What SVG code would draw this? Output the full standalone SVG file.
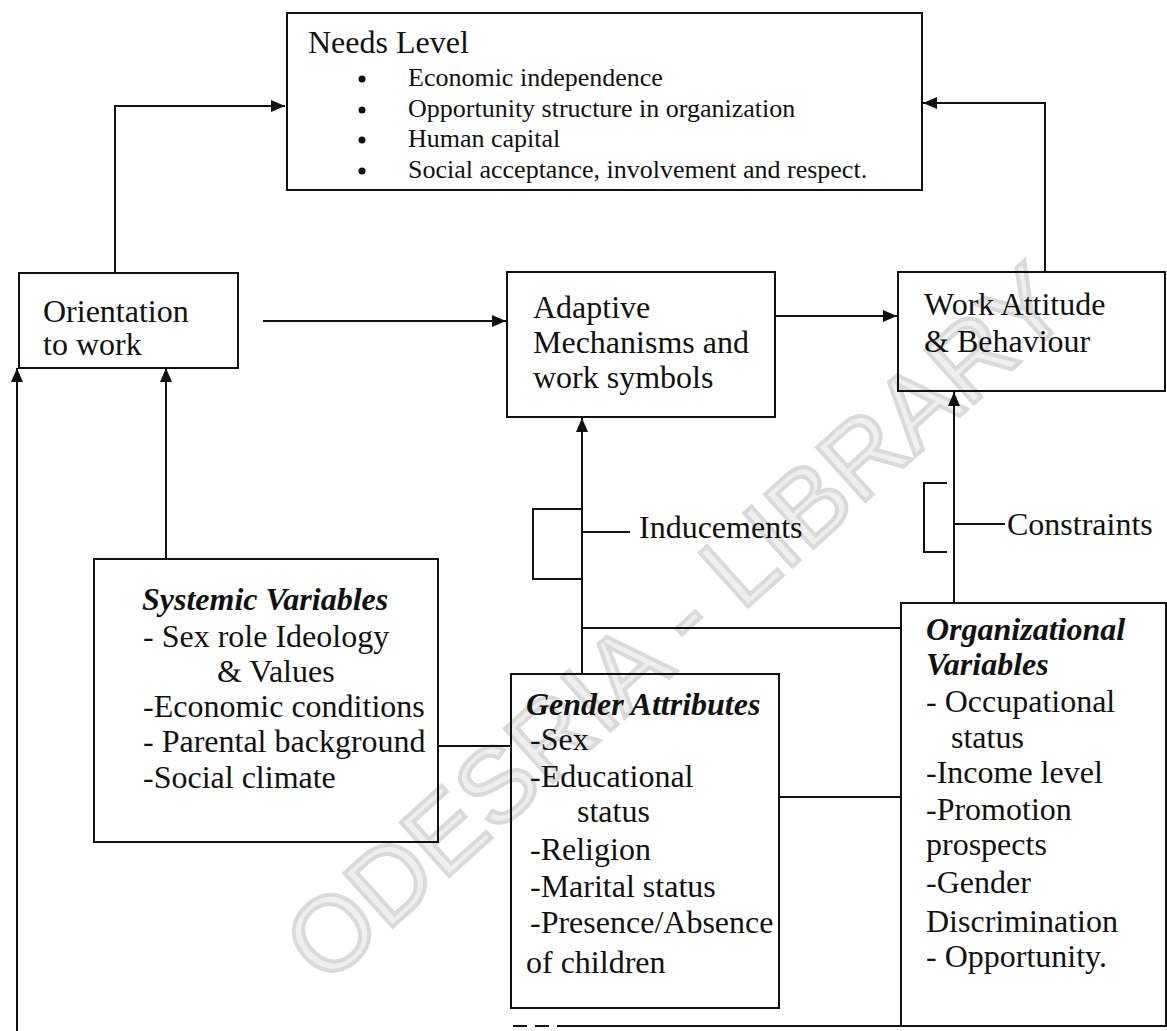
<svg xmlns="http://www.w3.org/2000/svg" width="1167" height="1031" viewBox="0 0 1167 1031">
<style>
.box{fill:none;stroke:#111;stroke-width:2}
.ln{fill:none;stroke:#111;stroke-width:2}
.t{font-family:"Liberation Serif","Times New Roman",serif;font-size:32px;fill:#111}
.b{font-family:"Liberation Serif","Times New Roman",serif;font-size:26px;fill:#111}
.h{font-weight:bold;font-style:italic}
.wm{font-family:"Liberation Sans",Arial,sans-serif;font-size:105px;fill:#efefef;stroke:#dadada;stroke-width:4}
</style>
<defs>
<marker id="ah" markerWidth="14" markerHeight="12" refX="14" refY="6" orient="auto" markerUnits="userSpaceOnUse">
<path d="M0,0 L14,6 L0,12 z" fill="#111"/>
</marker>
</defs>
<rect width="1167" height="1031" fill="#fff"/>
<text class="wm" text-anchor="middle" transform="translate(700,650) rotate(-42)">ODESRIA - LIBRARY</text>

<g id="connectors">
<path class="ln" d="M115,272 V106 H285" marker-end="url(#ah)"/>
<path class="ln" d="M1045,272 V103 H923" marker-end="url(#ah)"/>
<path class="ln" d="M263,321 H506" marker-end="url(#ah)"/>
<path class="ln" d="M775,316 H897" marker-end="url(#ah)"/>
<path class="ln" d="M166,559 V368" marker-end="url(#ah)"/>
<path class="ln" d="M17,1031 V368" marker-end="url(#ah)"/>
<path class="ln" d="M582,674 V418" marker-end="url(#ah)"/>
<path class="ln" d="M954,603 V392" marker-end="url(#ah)"/>
<path class="ln" d="M582,509 H533 V579 H582"/>
<path class="ln" d="M582,532 H630"/>
<path class="ln" d="M947,483 H924 V552 H947"/>
<path class="ln" d="M954,524 H1005"/>
<path class="ln" d="M582,628 H901"/>
<path class="ln" d="M438,746 H511"/>
<path class="ln" d="M779,797 H901"/>
<path class="ln" d="M513,1026 H560" stroke="#bbb" stroke-dasharray="14,8"/>
<path class="ln" d="M560,1026 H1167"/>
</g>

<g id="needs">
<rect class="box" x="287" y="13" width="635" height="177"/>
<text class="t" x="308" y="53">Needs Level</text>
<circle cx="362" cy="79" r="3.5" fill="#111"/>
<circle cx="362" cy="110" r="3.5" fill="#111"/>
<circle cx="362" cy="140" r="3.5" fill="#111"/>
<circle cx="362" cy="171" r="3.5" fill="#111"/>
<text class="b"><tspan x="408" y="86">Economic independence</tspan><tspan x="408" y="117">Opportunity structure in organization</tspan><tspan x="408" y="147">Human capital</tspan><tspan x="408" y="178">Social acceptance, involvement and respect.</tspan></text>
</g>

<g id="orientation">
<rect class="box" x="19" y="273" width="219" height="95"/>
<text class="t"><tspan x="43" y="322">Orientation</tspan><tspan x="43" y="355">to work</tspan></text>
</g>

<g id="adaptive">
<rect class="box" x="507" y="272" width="268" height="145"/>
<text class="t"><tspan x="533" y="318">Adaptive</tspan><tspan x="533" y="353">Mechanisms and</tspan><tspan x="533" y="388">work symbols</tspan></text>
</g>

<g id="work">
<rect class="box" x="898" y="272" width="267" height="119"/>
<text class="t"><tspan x="924" y="315">Work Attitude</tspan><tspan x="924" y="352">&amp; Behaviour</tspan></text>
</g>

<g id="inducements">
<text class="t" x="639" y="538">Inducements</text>
</g>

<g id="constraints">
<text class="t" x="1007" y="535">Constraints</text>
</g>

<g id="systemic">
<rect class="box" x="94" y="559" width="344" height="283"/>
<text class="t"><tspan class="h" x="142" y="610">Systemic Variables</tspan><tspan x="143" y="647">- Sex role Ideology</tspan><tspan x="217" y="682">&amp; Values</tspan><tspan x="143" y="717">-Economic conditions</tspan><tspan x="143" y="752">- Parental background</tspan><tspan x="143" y="788">-Social climate</tspan></text>
</g>

<g id="gender">
<rect class="box" x="511" y="674" width="268" height="334"/>
<text class="t"><tspan class="h" x="526" y="715">Gender Attributes</tspan><tspan x="530" y="750">-Sex</tspan><tspan x="530" y="787">-Educational</tspan><tspan x="577" y="822">status</tspan><tspan x="530" y="860">-Religion</tspan><tspan x="530" y="897">-Marital status</tspan><tspan x="530" y="933">-Presence/Absence</tspan><tspan x="526" y="973">of children</tspan></text>
</g>

<g id="organizational">
<path class="box" d="M901,1026 V603 H1166 V1026"/>
<text class="t"><tspan class="h" x="926" y="640">Organizational</tspan><tspan class="h" x="926" y="675">Variables</tspan><tspan x="926" y="712">- Occupational</tspan><tspan x="951" y="748">status</tspan><tspan x="926" y="783">-Income level</tspan><tspan x="926" y="820">-Promotion</tspan><tspan x="926" y="855">prospects</tspan><tspan x="926" y="893">-Gender</tspan><tspan x="926" y="932">Discrimination</tspan><tspan x="926" y="967">- Opportunity.</tspan></text>
</g>
</svg>
